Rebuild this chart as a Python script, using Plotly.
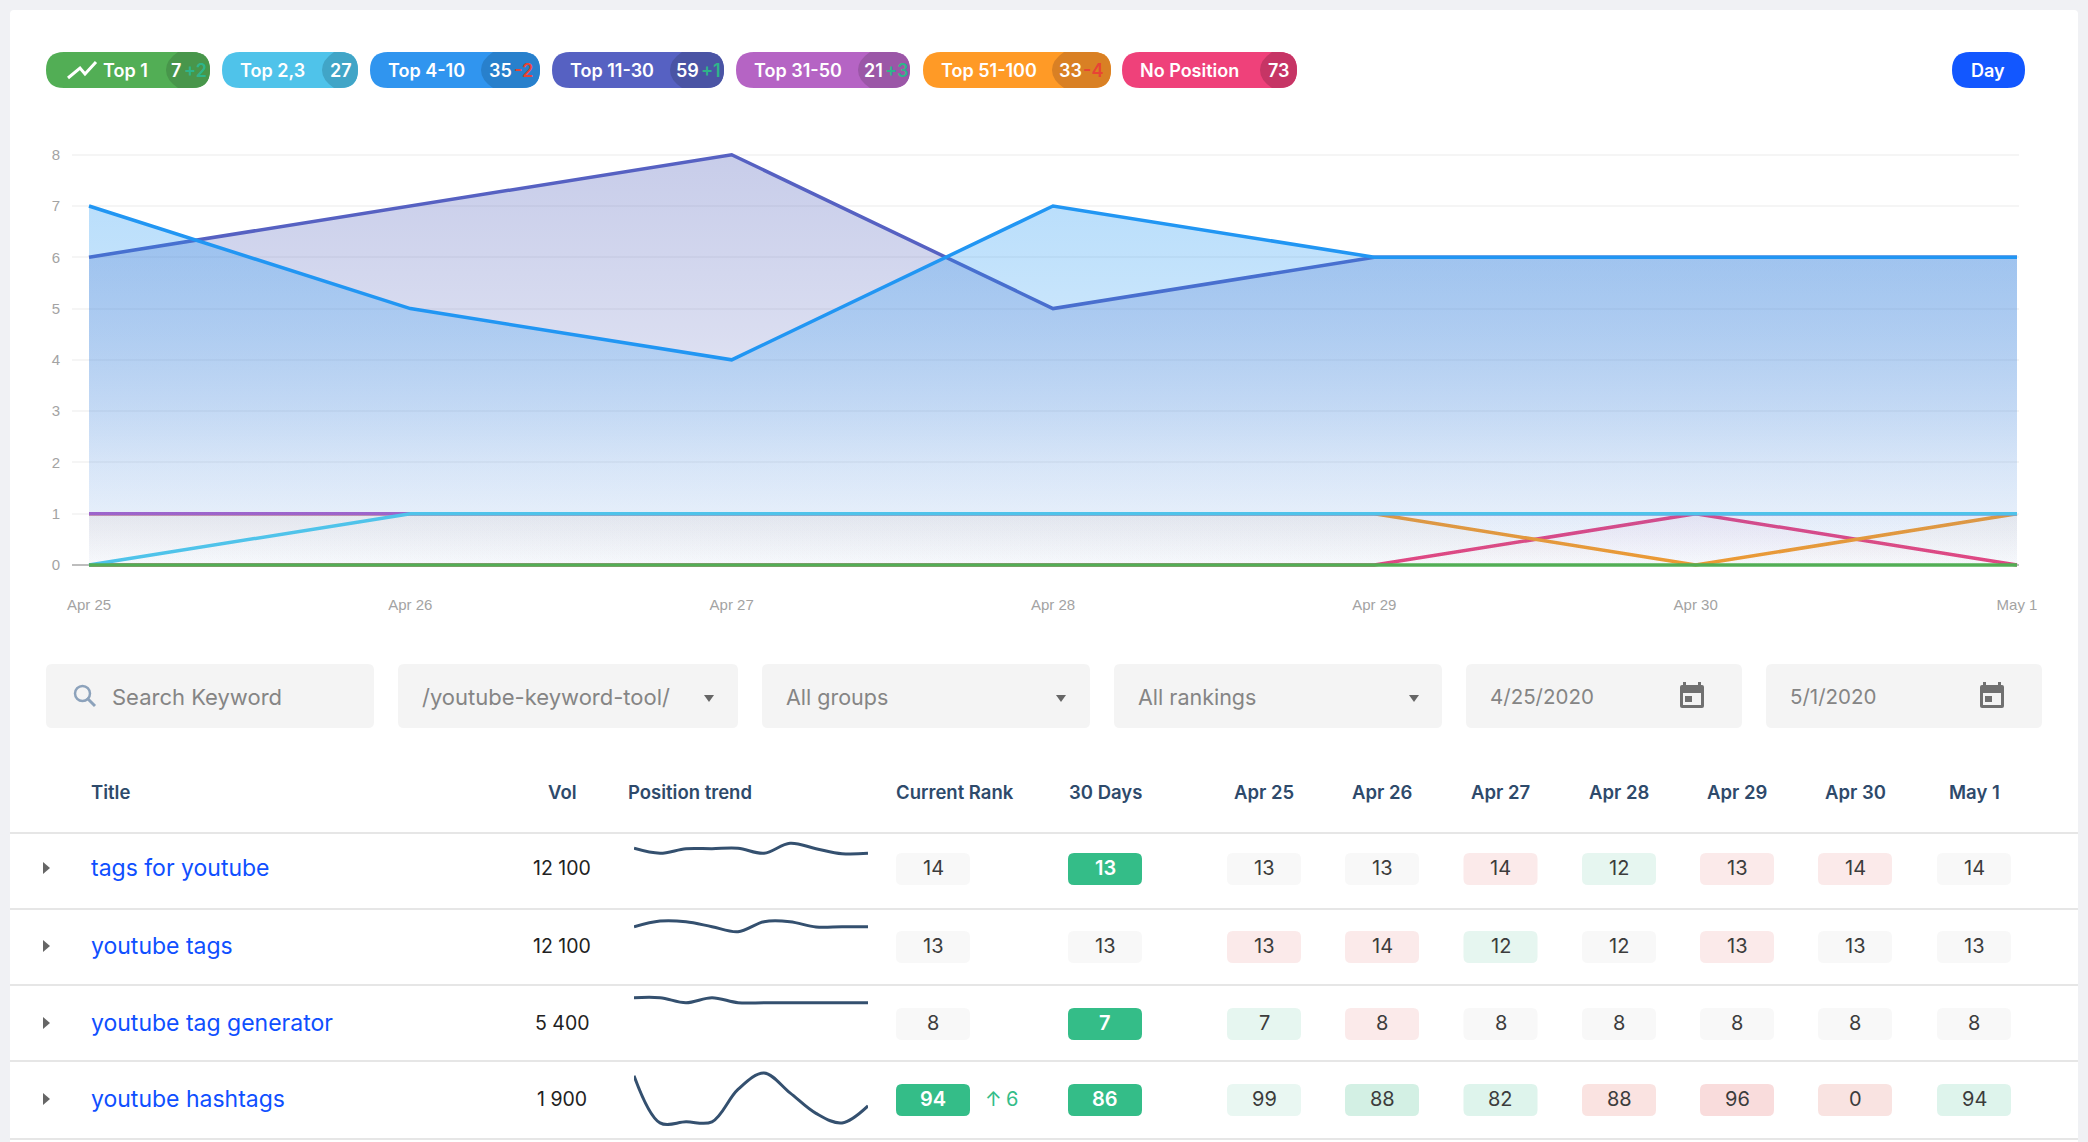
import plotly.graph_objects as go

W, H = 2088, 1142
UI_FONT = 'Inter'
AXIS_FONT = 'Liberation Sans'

# ranking chart
days = ['Apr 25', 'Apr 26', 'Apr 27', 'Apr 28', 'Apr 29', 'Apr 30', 'May 1']
top_1 = [0, 0, 0, 0, 0, 0, 0]
top_2_3 = [0, 1, 1, 1, 1, 1, 1]
top_4_10 = [7, 5, 4, 7, 6, 6, 6]
top_11_30 = [6, 7, 8, 5, 6, 6, 6]
top_31_50 = [1, 1, 1, 1, 1, 1, 1]
top_51_100 = [1, 1, 1, 1, 1, 0, 1]
no_position = [0, 0, 0, 0, 0, 1, 0]

# table
keywords = ['tags for youtube', 'youtube tags', 'youtube tag generator', 'youtube hashtags']
volumes = ['12 100', '12 100', '5 400', '1 900']
current_rank = [14, 13, 8, 94]
days_30 = [13, 13, 7, 86]
day_ranks = [
    [13, 13, 14, 12, 13, 14, 14],
    [13, 14, 12, 12, 13, 13, 13],
    [7, 8, 8, 8, 8, 8, 8],
    [99, 88, 82, 88, 96, 0, 94],
]
trend_1 = [60.7, 55.7, 60.3, 60.3, 60.7, 55.7, 65.7, 60.3, 55.3, 55.7]
trend_2 = [58.3, 64.0, 63.3, 58.3, 53.3, 63.3, 63.3, 58.0, 58.3, 58.3]
trend_3 = [63.3, 63.3, 58.3, 63.3, 58.3, 58.3, 58.3, 58.3, 58.3, 58.3]
trend_4 = [61.7, 15.7, 16.7, 16.7, 48.3, 64.3, 45.0, 25.0, 15.7, 32.3]


def px(x):
    return x / W


def py(y):
    return 1 - y / H


shapes = []
notes = []


def rrect(x0, y0, x1, y1, r, color):
    d = (f'M {px(x0 + r)} {py(y0)} L {px(x1 - r)} {py(y0)} Q {px(x1)} {py(y0)} {px(x1)} {py(y0 + r)} '
         f'L {px(x1)} {py(y1 - r)} Q {px(x1)} {py(y1)} {px(x1 - r)} {py(y1)} '
         f'L {px(x0 + r)} {py(y1)} Q {px(x0)} {py(y1)} {px(x0)} {py(y1 - r)} '
         f'L {px(x0)} {py(y0 + r)} Q {px(x0)} {py(y0)} {px(x0 + r)} {py(y0)} Z')
    shapes.append(dict(type='path', xref='paper', yref='paper', path=d, fillcolor=color,
                       line_width=0, layer='below'))


def poly(points, color=None, line=None, width=0):
    d = 'M ' + ' L '.join(f'{px(x)} {py(y)}' for x, y in points)
    if color:
        d += ' Z'
    shapes.append(dict(type='path', xref='paper', yref='paper', path=d,
                       fillcolor=color if color else 'rgba(0,0,0,0)',
                       line=dict(color=line if line else 'rgba(0,0,0,0)', width=width), layer='below'))


def text(x, y, s, size, color, anchor='left', weight=400, family=UI_FONT):
    notes.append(dict(x=px(x), y=py(y), xref='paper', yref='paper', text=s, showarrow=False,
                      xanchor=anchor, yanchor='middle', borderpad=0, borderwidth=0,
                      font=dict(family=family, size=size, color=color, weight=weight)))


# card
rrect(10, 10, 2078, 1160, 4, '#ffffff')

# legend pills
pills = [
    ('Top 1', 46, 210, 166, 103, '#52ae55', '#48964b', '7', 171, '+2', 184, '#2eb58a'),
    ('Top 2,3', 222, 358, 322, 240, '#4fc3ea', '#41a5c7', '27', 330, '', 0, ''),
    ('Top 4-10', 370, 540, 481, 388, '#3095ef', '#2880cc', '35', 489, '-2', 514, '#e84335'),
    ('Top 11-30', 552, 724, 670, 570, '#5661c2', '#4a54a4', '59', 676, '+1', 701, '#2eb58a'),
    ('Top 31-50', 736, 910, 858, 754, '#b564c4', '#9b57a7', '21', 864, '+3', 885, '#2eb58a'),
    ('Top 51-100', 923, 1111, 1052, 941, '#ff9a26', '#d98024', '33', 1059, '-4', 1083, '#e84335'),
    ('No Position', 1122, 1297, 1260, 1140, '#ef417a', '#c63565', '73', 1268, '', 0, ''),
]
for label, x0, x1, xd, xt, col, dark, n, xn, delta, xdelta, dcol in pills:
    rrect(x0, 52, x1, 88, 18, col)
    d = (f'M {px(xd + 12)} {py(52)} L {px(x1 - 18)} {py(52)} Q {px(x1)} {py(52)} {px(x1)} {py(70)} '
         f'Q {px(x1)} {py(88)} {px(x1 - 18)} {py(88)} L {px(xd + 12)} {py(88)} '
         f'Q {px(xd)} {py(80)} {px(xd)} {py(70)} Q {px(xd)} {py(60)} {px(xd + 12)} {py(52)} Z')
    shapes.append(dict(type='path', xref='paper', yref='paper', path=d, fillcolor=dark,
                       line_width=0, layer='below'))
    text(xt, 70, label, 18, '#ffffff', weight=600)
    text(xn, 70, n, 18, '#ffffff', weight=600)
    if delta:
        text(xdelta, 70, delta, 18, dcol, weight=600)
poly([(68, 78), (80, 68), (85, 74), (96, 62)], line='#ffffff', width=3)
rrect(1952, 52, 2025, 88, 18, '#1257ff')
text(1988, 70, 'Day', 18, '#ffffff', anchor='center', weight=600)

# filter bar
boxes = [(46, 374), (398, 738), (762, 1090), (1114, 1442), (1466, 1742), (1766, 2042)]
for x0, x1 in boxes:
    rrect(x0, 664, x1, 728, 6, '#f4f4f4')
filter_labels = [(112, 'Search Keyword', 22), (422, '/youtube-keyword-tool/', 22), (786, 'All groups', 21.5),
                 (1138, 'All rankings', 21.5), (1490, '4/25/2020', 20.5), (1790, '5/1/2020', 20.5)]
for x, s, size in filter_labels:
    text(x, 696.5, s, size, '#858585')
shapes.append(dict(type='circle', xref='paper', yref='paper', x0=px(75), x1=px(90), y0=py(686), y1=py(701),
                   line=dict(color='#8ca2bb', width=2.5), layer='below'))
poly([(87, 698), (95, 706)], line='#8ca2bb', width=3)
for xc in [709, 1061, 1414]:
    poly([(xc - 5, 695), (xc + 5, 695), (xc, 702)], color='#666666')
for x0 in [1680, 1980]:
    rrect(x0, 685, x0 + 24, 708, 2, '#707070')
    rrect(x0 + 3, 693, x0 + 21, 705, 0, '#f4f4f4')
    rrect(x0 + 5, 696, x0 + 12, 702, 0, '#707070')
    rrect(x0 + 3, 682, x0 + 6, 686, 0, '#707070')
    rrect(x0 + 18, 682, x0 + 21, 686, 0, '#707070')

# table head
HEAD = '#2e4a6b'
HEAD_SIZE = 18.5
text(91, 791.5, 'Title', HEAD_SIZE, HEAD, weight=600)
text(562, 791.5, 'Vol', HEAD_SIZE, HEAD, anchor='center', weight=600)
text(628, 791.5, 'Position trend', HEAD_SIZE, HEAD, weight=600)
text(896, 791.5, 'Current Rank', HEAD_SIZE, HEAD, weight=600)
text(1069, 791.5, '30 Days', HEAD_SIZE, HEAD, weight=600)
col_x = [1264, 1382, 1500.5, 1619, 1737, 1855, 1974]
for xc, d in zip(col_x, days):
    text(xc, 791.5, d, HEAD_SIZE, HEAD, anchor='center', weight=600)

row_y = [869, 947, 1024, 1100]
rule_y = [833, 909, 985, 1061, 1139]
for y in rule_y:
    shapes.append(dict(type='line', xref='paper', yref='paper', x0=px(10), x1=px(2078), y0=py(y), y1=py(y),
                       line=dict(color='#e6e6e6', width=2), layer='below'))

GREY, RED, MINT, SOLID = '#f8f8f8', '#fbeaea', '#e6f6f0', '#34bd88'
current_fill = [GREY, GREY, GREY, SOLID]
days_30_fill = [SOLID, GREY, SOLID, SOLID]
day_fill = [
    [GREY, GREY, RED, MINT, RED, RED, GREY],
    [RED, RED, MINT, GREY, RED, GREY, GREY],
    [MINT, RED, GREY, GREY, GREY, GREY, GREY],
    ['#e9f7f2', '#d3f0e4', '#def4ec', '#fae3e1', '#f9dcdc', '#f9e3e1', '#def4ec'],
]


def badge(xc, yc, value, fill):
    rrect(xc - 37, yc - 16, xc + 37, yc + 16, 6, fill)
    text(xc, yc - 1, str(value), 20, '#ffffff' if fill == SOLID else '#3c3c3c', anchor='center',
         weight=600 if fill == SOLID else 400)


for i, yc in enumerate(row_y):
    poly([(43, yc - 7), (50, yc - 1), (43, yc + 5)], color='#666666')
    text(91, yc - 1.5, keywords[i], 23, '#0f4fff')
    text(562, yc - 1, volumes[i], 19.5, '#222222', anchor='center')
    badge(933, yc, current_rank[i], current_fill[i])
    badge(1105, yc, days_30[i], days_30_fill[i])
    for xc, value, fill in zip(col_x, day_ranks[i], day_fill[i]):
        badge(xc, yc, value, fill)
text(985, row_y[3] - 1, '↑', 20, SOLID)
text(1006, row_y[3] - 1, '6', 20, SOLID)

fig = go.Figure()

BIG_STOPS = [(0, 0.02), (0.125, 0.07), (0.25, 0.11), (0.375, 0.165), (0.56, 0.23), (0.75, 0.28), (1, 0.34)]


def area(y, color, rgb, stops, stop):
    fig.add_trace(go.Scatter(
        x=days, y=y, mode='lines', line=dict(color=color, width=3.5), fill='tozeroy',
        fillgradient=dict(type='vertical', start=0, stop=stop,
                          colorscale=[[p, f'rgba({rgb},{a})'] for p, a in stops]),
        hoverinfo='skip', showlegend=False))


area(no_position, '#e8437f', '236,64,122', [(0, 0.005), (1, 0.06)], 1)
area(top_51_100, '#f59b2b', '255,154,38', [(0, 0.005), (1, 0.06)], 1)
area(top_31_50, '#ab5fc9', '171,95,201', [(0, 0.005), (1, 0.02)], 1)
area(top_11_30, '#5661c2', '92,107,192', BIG_STOPS, 8)
area(top_4_10, '#2196f3', '33,150,243', BIG_STOPS, 8)
area(top_2_3, '#4fc3ea', '79,195,234', [(0, 0.005), (1, 0.01)], 1)
area(top_1, '#52ae55', '82,174,85', [(0, 0.005), (1, 0.01)], 1)

trends = [trend_1, trend_2, trend_3, trend_4]
for i, t in enumerate(trends):
    fig.add_trace(go.Scatter(x=list(range(len(t))), y=t, mode='lines', xaxis='x2', yaxis=f'y{i + 2}',
                             line=dict(color='#34506f', width=3, shape='spline'),
                             hoverinfo='skip', showlegend=False))

step = (2017 - 89) / 6
unit = (565 - 154.7) / 8
layout = dict(
    template='none',
    width=W, height=H, autosize=False, margin=dict(l=0, r=0, t=0, b=0),
    paper_bgcolor='#f0f1f4', plot_bgcolor='rgba(0,0,0,0)', shapes=shapes, annotations=notes,
    xaxis=dict(domain=[px(72), px(2019)], type='category', range=[-17 / step, 6 + 2 / step], showgrid=False,
               zeroline=False, showline=False, ticks='outside', ticklen=21, tickcolor='rgba(0,0,0,0)',
               automargin=False, tickfont=dict(family=AXIS_FONT, size=15, color='#a3a3a3')),
    yaxis=dict(domain=[py(565 + 0.1 * unit), py(154.7 - 0.1 * unit)], range=[-0.1, 8.1], tick0=0, dtick=1,
               gridcolor='#f5f5f5', gridwidth=2, zeroline=True, zerolinecolor='#bdbdbd', zerolinewidth=2,
               showline=False, ticks='outside', ticklen=8, tickcolor='rgba(0,0,0,0)',
               automargin=False, tickfont=dict(family=AXIS_FONT, size=15, color='#a3a3a3')),
    xaxis2=dict(domain=[px(634), px(868)], range=[0, 9], visible=False, anchor='y2'),
)
for i in range(4):
    layout[f'yaxis{i + 2}'] = dict(domain=[py(rule_y[i + 1]), py(rule_y[i])], range=[0, 76], visible=False,
                                   anchor='x2')
fig.update_layout(**layout)

fig.write_html('out.html', config={'displayModeBar': False}, post_script="document.body.style.margin='0';")
